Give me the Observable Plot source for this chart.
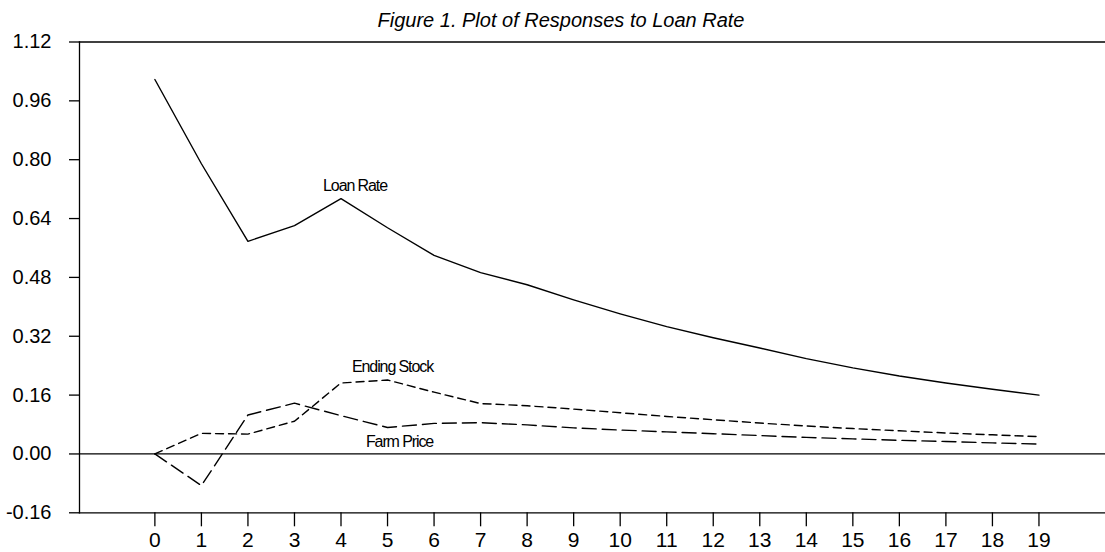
<!DOCTYPE html>
<html>
<head>
<meta charset="utf-8">
<script src="https://cdn.jsdelivr.net/npm/d3@7"></script>
<script src="https://cdn.jsdelivr.net/npm/@observablehq/plot@0.6"></script>
<style>
  html, body { margin: 0; padding: 0; background: #fff; }
  #title {
    width: 1105px; height: 30px; box-sizing: border-box;
    padding-top: 9px; padding-left: 17px;
    text-align: center; line-height: 1;
    font: italic 20px "Liberation Sans", Arial, sans-serif; color: #000;
  }
  #chart svg { display: block; }
</style>
</head>
<body>
<div id="title">Figure 1. Plot of Responses to Loan Rate</div>
<div id="chart"></div>
<script>
const periods = [0, 1, 2, 3, 4, 5, 6, 7, 8, 9, 10, 11, 12, 13, 14, 15, 16, 17, 18, 19];
const loanRate = [1.018, 0.789, 0.578, 0.621, 0.694, 0.615, 0.540, 0.493, 0.460, 0.419,
                  0.381, 0.346, 0.316, 0.288, 0.259, 0.234, 0.212, 0.193, 0.176, 0.160];
const endingStock = [0.000, 0.056, 0.054, 0.089, 0.193, 0.201, 0.168, 0.137, 0.131, 0.122,
                     0.112, 0.102, 0.093, 0.084, 0.076, 0.069, 0.063, 0.057, 0.052, 0.047];
const farmPrice = [0.000, -0.086, 0.106, 0.138, 0.104, 0.072, 0.083, 0.085, 0.079, 0.071,
                   0.065, 0.060, 0.055, 0.050, 0.045, 0.041, 0.037, 0.034, 0.030, 0.027];
const seriesNames = ["Loan Rate", "Ending Stock", "Farm Price"];
const yTicks = [-0.16, 0.00, 0.16, 0.32, 0.48, 0.64, 0.80, 0.96, 1.12];
const yTickLabels = ["-0.16", "0.00", "0.16", "0.32", "0.48", "0.64", "0.80", "0.96", "1.12"];
const xTicks = periods;

const tidy = (vals, name) => periods.map((p, i) => ({period: p, value: vals[i], series: name}));
const lr = tidy(loanRate, seriesNames[0]);
const es = tidy(endingStock, seriesNames[1]);
const fp = tidy(farmPrice, seriesNames[2]);

const font = '"Liberation Sans", Arial, sans-serif';
const labelStyle = {fontSize: 16, fontFamily: font, fill: "#000"};

const chart = Plot.plot({
  width: 1105,
  height: 522,
  marginTop: 11.5,
  marginBottom: 39.7,
  marginLeft: 79,
  marginRight: 0,
  style: {fontFamily: font, fontSize: "20px", color: "#000", background: "#fff", overflow: "visible"},
  x: {domain: [-1.62, 20.43], axis: null},
  y: {domain: [-0.16, 1.12], axis: null},
  marks: [
    Plot.frame({anchor: "left", stroke: "#000", strokeWidth: 1.3}),
    Plot.frame({anchor: "top", stroke: "#000", strokeWidth: 1.3}),
    Plot.frame({anchor: "bottom", stroke: "#000", strokeWidth: 1.3}),
    Plot.ruleY([0], {stroke: "#000", strokeWidth: 1.3}),
    Plot.axisY({
      ticks: yTicks, tickSize: 10, tickPadding: 18, strokeWidth: 1.3,
      tickFormat: d => yTickLabels[yTicks.indexOf(d)],
      fontSize: 20, label: null
    }),
    Plot.axisX({
      ticks: xTicks, tickSize: 14, tickPadding: 5, strokeWidth: 1.3,
      tickFormat: d => String(d), fontSize: 21, label: null
    }),
    Plot.line(lr, {x: "period", y: "value", stroke: "#000", strokeWidth: 1.4}),
    Plot.line(es, {x: "period", y: "value", stroke: "#000", strokeWidth: 1.4, strokeDasharray: "8,5"}),
    Plot.line(fp, {x: "period", y: "value", stroke: "#000", strokeWidth: 1.4, strokeDasharray: "14,6"}),
    Plot.text([lr[4]], {x: "period", y: "value", text: "series", dx: 14, dy: -13, ...labelStyle}),
    Plot.text([es[5]], {x: "period", y: "value", text: "series", dx: 5, dy: -13, ...labelStyle}),
    Plot.text([fp[5]], {x: "period", y: "value", text: "series", dx: 12, dy: 14, ...labelStyle})
  ]
});
chart.querySelectorAll("text").forEach(t => {
  const s = t.closest("g[aria-label='text']");
  if (s) t.setAttribute("letter-spacing", "-1.1");
});
document.getElementById("chart").appendChild(chart);
</script>
</body>
</html>
